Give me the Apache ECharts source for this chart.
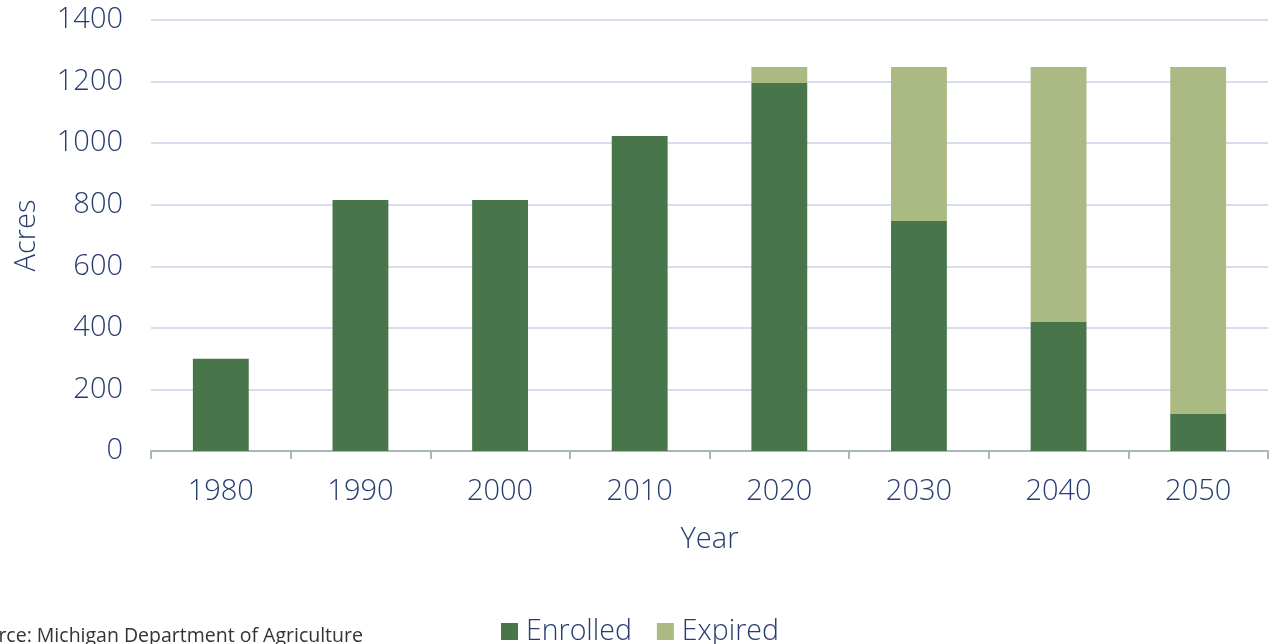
<!DOCTYPE html>
<html><head><meta charset="utf-8">
<script src="https://cdn.jsdelivr.net/npm/echarts@6/dist/echarts.min.js"></script>
<style>html,body{margin:0;padding:0;background:#fff}#c{width:1270px;height:644px}</style>
</head><body><div id="c"></div>
<script>
const years = ['1980','1990','2000','2010','2020','2030','2040','2050'];
const enrolled = [300, 815, 815, 1023, 1195, 747, 419, 122];
const expired = [0, 0, 0, 0, 52, 500, 828, 1125];
const yTicks = [0, 200, 400, 600, 800, 1000, 1200, 1400];

const txt = '#263b70';
const font = 'Open Sans';
const chart = echarts.init(document.getElementById('c'));
chart.setOption({
  animation: false,
  grid: {left: 151, right: 2, top: 20, bottom: 193},
  legend: {
    top: 612, left: 496, itemWidth: 17, itemHeight: 17, itemGap: 25,
    icon: 'rect',
    textStyle: {color: txt, fontSize: 28.5, fontFamily: font, fontWeight: 300, padding: [0, 0, 0, 3]}
  },
  graphic: [{
    type: 'text', left: -36, top: 626,
    style: {text: 'Source: Michigan Department of Agriculture', fill: '#333', fontSize: 19.5, fontFamily: font}
  }],
  xAxis: {
    type: 'category', data: years,
    name: 'Year', nameLocation: 'middle', nameGap: 74,
    nameTextStyle: {color: txt, fontSize: 29, fontFamily: font, fontWeight: 300},
    axisLine: {lineStyle: {color: '#aab7b8', width: 2}},
    axisTick: {show: true, length: 8, lineStyle: {color: '#aab7b8', width: 2}},
    axisLabel: {color: txt, fontSize: 29, fontFamily: font, fontWeight: 300, margin: 26}
  },
  yAxis: {
    type: 'value', min: yTicks[0], max: yTicks[yTicks.length-1], interval: 200,
    name: 'Acres', nameLocation: 'middle', nameGap: 110,
    nameTextStyle: {color: txt, fontSize: 29, fontFamily: font, fontWeight: 300},
    axisLine: {show: false}, axisTick: {show: false},
    splitLine: {lineStyle: {color: '#d8dcef', width: 2}},
    axisLabel: {color: txt, fontSize: 29, fontFamily: font, fontWeight: 300, margin: 28,
      formatter: v => String(v)}
  },
  series: [
    {name: 'Enrolled', type: 'bar', stack: 'a', data: enrolled, barWidth: '40%', itemStyle: {color: '#48764a'}},
    {name: 'Expired', type: 'bar', stack: 'a', data: expired, barWidth: '40%', itemStyle: {color: '#abb982'}}
  ]
});
</script></body></html>
